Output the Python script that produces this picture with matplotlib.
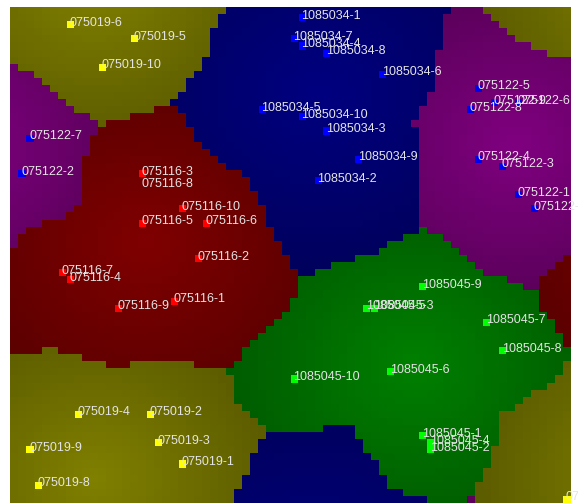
import numpy as np
import matplotlib
matplotlib.use("Agg")
import matplotlib.pyplot as plt

N = 70  # toroidal SOM grid size (columns x rows)

# cluster definitions
cluster_names = ["075019", "075116", "1085034", "075122", "1085045"]
region_rgb = [(128, 128, 0), (128, 0, 0), (0, 0, 128), (128, 0, 128), (0, 128, 0)]
region_bias = [0.5, 0.0, -0.5, 0.0, 4.0]   # extra distance (cells) in territory assignment
point_colors = ["#ffff00", "#ff0000", "#0000ff", "#0000ee", "#00ff00"]

# samples: labels, grid column, grid row
c075019_labels = ["075019-6", "075019-5", "075019-10", "075019-4", "075019-2",
                  "075019-3", "075019-9", "075019-1", "075019-8", "075019-7"]
c075019_cols = [7, 15, 11, 8, 17, 18, 2, 21, 3, 69]
c075019_rows = [2, 4, 8, 57, 57, 61, 62, 64, 67, 69]

c075116_labels = ["075116-3", "075116-8", "075116-10", "075116-5", "075116-6",
                  "075116-2", "075116-7", "075116-4", "075116-9", "075116-1"]
c075116_cols = [16, 16, 21, 16, 24, 23, 6, 7, 13, 20]
c075116_rows = [23, 23, 28, 30, 30, 35, 37, 38, 42, 41]

c1085034_labels = ["1085034-1", "1085034-7", "1085034-4", "1085034-8", "1085034-6",
                   "1085034-5", "1085034-10", "1085034-3", "1085034-9", "1085034-2"]
c1085034_cols = [36, 35, 36, 39, 46, 31, 36, 39, 43, 38]
c1085034_rows = [1, 4, 5, 6, 9, 14, 15, 17, 21, 24]

c075122_labels = ["075122-7", "075122-2", "075122-5", "075122-9", "075122-6",
                  "075122-8", "075122-4", "075122-3", "075122-1", "075122-10"]
c075122_cols = [2, 1, 58, 60, 63, 57, 58, 61, 63, 65]
c075122_rows = [18, 23, 11, 13, 13, 14, 21, 22, 26, 28]

c1085045_labels = ["1085045-9", "1085045-5", "1085045-3", "1085045-7", "1085045-8",
                   "1085045-10", "1085045-6", "1085045-1", "1085045-4", "1085045-2"]
c1085045_cols = [51, 44, 45, 59, 61, 35, 47, 51, 52, 52]
c1085045_rows = [39, 42, 42, 44, 48, 52, 51, 60, 61, 62]

groups = [
    (c075019_labels, c075019_cols, c075019_rows),
    (c075116_labels, c075116_cols, c075116_rows),
    (c1085034_labels, c1085034_cols, c1085034_rows),
    (c075122_labels, c075122_cols, c075122_rows),
    (c1085045_labels, c1085045_cols, c1085045_rows),
]

pts_x, pts_y, pts_c, pts_lab = [], [], [], []
for k, (labs, cols, rows) in enumerate(groups):
    for l, c, r in zip(labs, cols, rows):
        pts_x.append(c + 0.5)
        pts_y.append(r + 0.5)
        pts_c.append(k)
        pts_lab.append(l)
pts_x = np.array(pts_x)
pts_y = np.array(pts_y)
pts_c = np.array(pts_c)

# toroidal nearest-sample map
gx, gy = np.meshgrid(np.arange(N) + 0.5, np.arange(N) + 0.5)
dx = np.abs(gx[..., None] - pts_x[None, None, :])
dy = np.abs(gy[..., None] - pts_y[None, None, :])
dx = np.minimum(dx, N - dx)
dy = np.minimum(dy, N - dy)
d = np.sqrt(dx ** 2 + dy ** 2) + np.array(region_bias)[pts_c][None, None, :]
owner = pts_c[np.argmin(d, axis=2)]

# shading: bright near the cluster's toroidal centre, darker toward edges
img = np.zeros((N, N, 3))
for k in range(len(cluster_names)):
    sel = pts_c == k
    ax_ = 2 * np.pi * pts_x[sel] / N
    ay_ = 2 * np.pi * pts_y[sel] / N
    cx = (np.arctan2(np.sin(ax_).mean(), np.cos(ax_).mean()) % (2 * np.pi)) * N / (2 * np.pi)
    cy = (np.arctan2(np.sin(ay_).mean(), np.cos(ay_).mean()) % (2 * np.pi)) * N / (2 * np.pi)
    ddx = np.abs(gx - cx); ddx = np.minimum(ddx, N - ddx)
    ddy = np.abs(gy - cy); ddy = np.minimum(ddy, N - ddy)
    dc = np.sqrt(ddx ** 2 + ddy ** 2)
    mask = owner == k
    dmax = dc[mask].max()
    f = 1.0 - 0.28 * (dc / dmax)
    base = np.array(region_rgb[k]) / 255.0
    img[mask] = (f[mask][:, None] * base[None, :])

fig = plt.figure(figsize=(5.78, 5.03), dpi=100)
ax = fig.add_axes([10 / 578, 0, 561 / 578, 496 / 503])
ax.imshow(img, extent=(0, N, N, 0), interpolation="nearest", aspect="auto")
ax.set_xlim(0, N)
ax.set_ylim(N, 0)
ax.axis("off")

ax.scatter(pts_x, pts_y, marker="s", s=26, c=[point_colors[k] for k in pts_c],
           linewidths=0, zorder=3)

seen = {}
for x, y, lab in zip(pts_x, pts_y, pts_lab):
    key = (x, y)
    n = seen.get(key, 0)
    seen[key] = n + 1
    t = ax.annotate(lab, (x, y), xytext=(-1.0, -1.0 - 12 * n), textcoords="offset pixels",
                    ha="left", va="baseline", color="#e4e4e4", fontsize=9,
                    family="Liberation Sans", zorder=4, annotation_clip=False)
    t.set_clip_on(True)

fig.savefig("out.png", dpi=100)
